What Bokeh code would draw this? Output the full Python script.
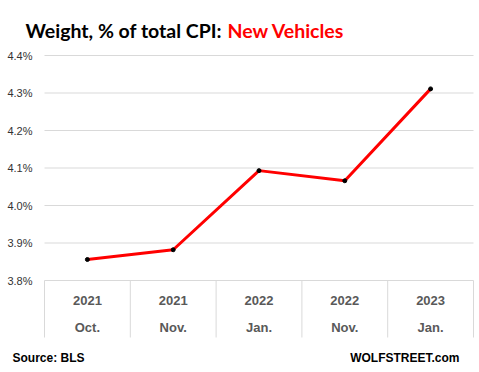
from bokeh.plotting import figure
from bokeh.models import Range1d
from bokeh.core.properties import value
from bokeh.embed import file_html
from bokeh.resources import INLINE

years = ["2021", "2021", "2022", "2022", "2023"]
months = ["Oct.", "Nov.", "Jan.", "Nov.", "Jan."]
weights = [3.856, 3.882, 4.093, 4.066, 4.311]
y_ticks = [3.8, 3.9, 4.0, 4.1, 4.2, 4.3, 4.4]
y_tick_labels = ["%.1f%%" % t for t in y_ticks]

W, H = 479, 372
PX_X = 85.8    # pixels per category
PX_Y = 375.0   # pixels per 1.0 of weight
Y_BOTTOM = 3.648  # bottom of category-label box

def dx(px):
    return (px - 44) / PX_X

def dy(py):
    return 4.4 + (55 - py) / PX_Y

p = figure(width=W, height=H, output_backend="svg", toolbar_location=None,
           x_range=Range1d(dx(0), dx(W)), y_range=Range1d(dy(H), dy(0)),
           x_axis_type=None, y_axis_type=None, min_border=0)
p.outline_line_color = None
p.background_fill_color = "white"
p.border_fill_color = "white"
p.xgrid.visible = False
p.ygrid.visible = False

n = len(years)
# horizontal gridlines
p.segment(x0=[0] * len(y_ticks), x1=[n] * len(y_ticks), y0=y_ticks, y1=y_ticks,
          line_color="#d9d9d9", line_width=1)
# category separators
p.segment(x0=list(range(n + 1)), x1=list(range(n + 1)),
          y0=[y_ticks[0]] * (n + 1), y1=[Y_BOTTOM] * (n + 1),
          line_color="#d9d9d9", line_width=1)

# y tick labels
p.text(x=[dx(32)] * len(y_ticks), y=y_ticks, text=y_tick_labels,
       text_align="right", text_baseline="middle",
       text_font=value("Liberation Sans"), text_font_size="11px", text_color="#333333")

xs = [i + 0.5 for i in range(n)]
p.text(x=xs, y=[dy(300)] * n, text=years, text_align="center", text_baseline="middle",
       text_font=value("Liberation Sans"), text_font_style="bold",
       text_font_size="13px", text_color="#595959")
p.text(x=xs, y=[dy(327)] * n, text=months, text_align="center", text_baseline="middle",
       text_font=value("Liberation Sans"), text_font_style="bold",
       text_font_size="13px", text_color="#595959")

p.line(xs, weights, line_color="#ff0000", line_width=3)
p.scatter(xs, weights, size=4, color="black")

def lab(px, py, text, size, color, align="left", font="Liberation Sans"):
    p.text(x=[dx(px)], y=[dy(py)], text=[text], text_align=align, text_baseline="middle",
           text_font=value(font), text_font_style="bold", text_font_size=size,
           text_color=color)

lab(25, 30, "Weight, % of total CPI:", "19.5px", "black", font="Lato")
lab(227, 30, "New Vehicles", "19.5px", "#ff0000", font="Lato")
lab(12, 357, "Source: BLS", "12px", "black")
lab(459, 357, "WOLFSTREET.com", "12px", "black", align="right")

open("out.html", "w").write(file_html(p, INLINE))
